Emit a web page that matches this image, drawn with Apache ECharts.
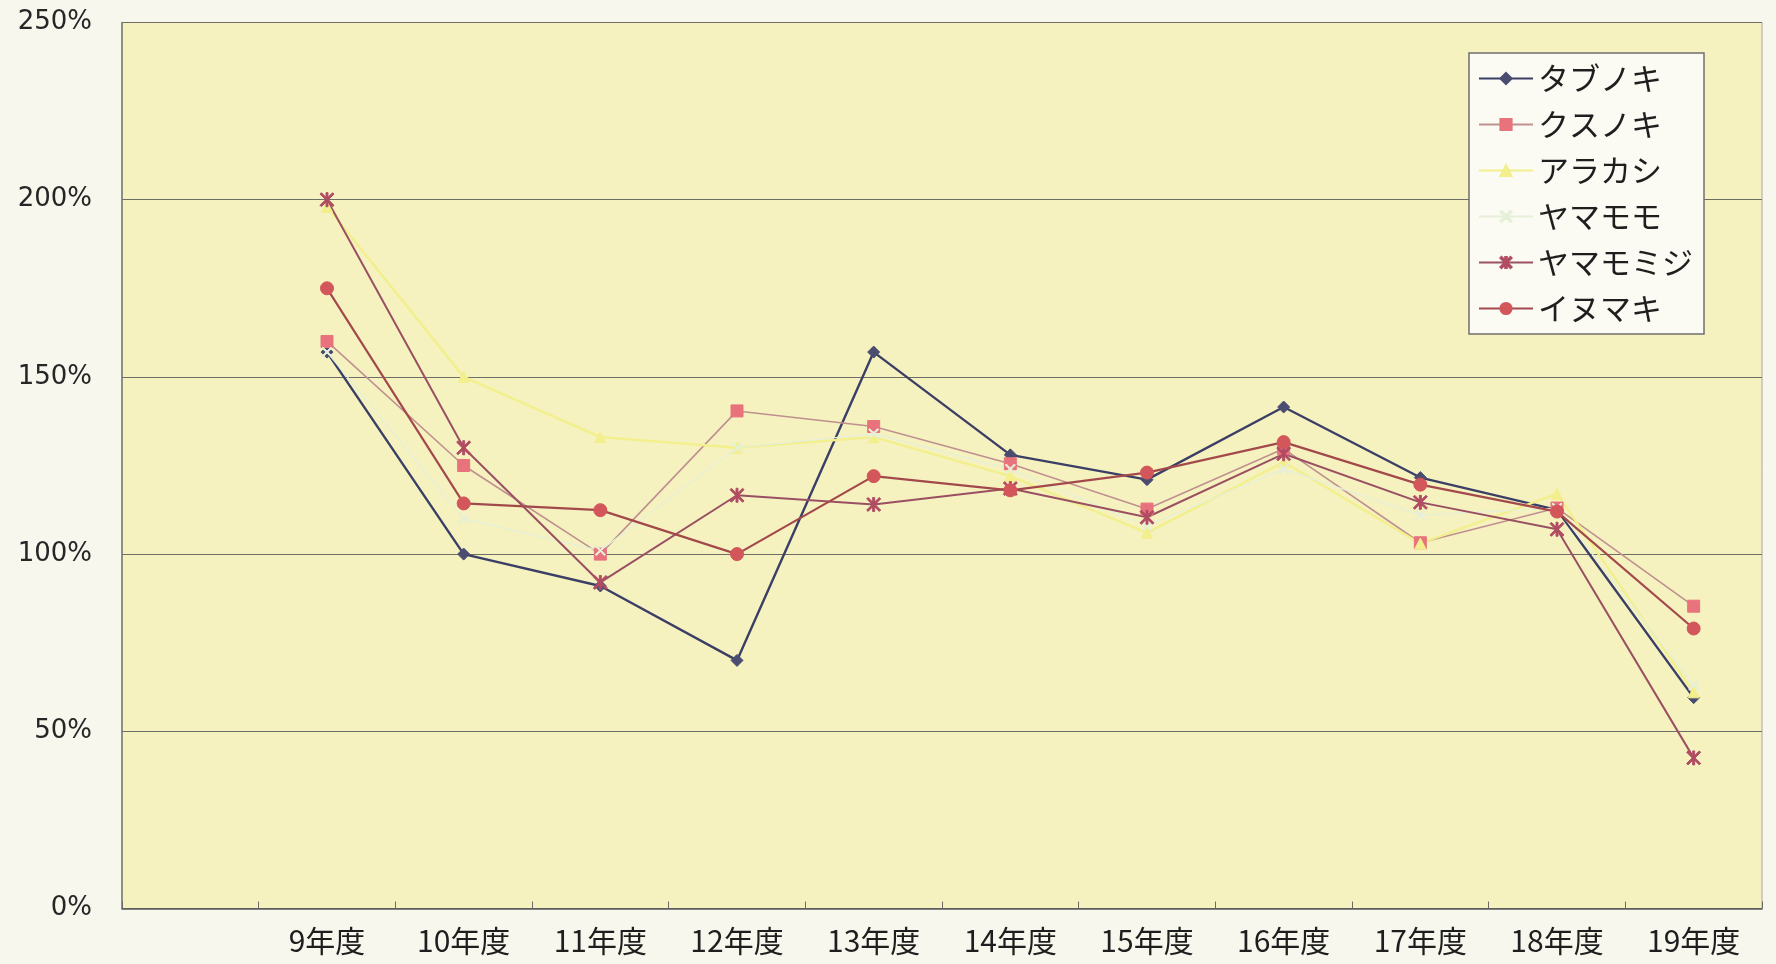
<!DOCTYPE html>
<html>
<head>
<meta charset="utf-8">
<title>樹種別 成長率</title>
<script src="https://cdn.jsdelivr.net/npm/echarts@6/dist/echarts.min.js"></script>
<style>
  html, body { margin: 0; padding: 0; background: #f7f7ee; }
  #chart { width: 1776px; height: 964px; }
</style>
</head>
<body>
<div id="chart"></div>
<script>
// 年度 (先頭は空欄の区間)
const categories = ['', '9年度', '10年度', '11年度', '12年度', '13年度', '14年度', '15年度', '16年度', '17年度', '18年度', '19年度'];

// 樹種ごとの値 (%)
const tabunoki   = [null, 157, 100, 91, 70, 157, 128, 121, 141.5, 121.6, 112.5, 59.5];
const kusunoki   = [null, 160, 125, 100, 140.4, 136, 125.5, 112.7, 129.7, 103.2, 113, 85.3];
const arakashi   = [null, 198, 150, 133, 130, 133, 122, 106, 126, 103, 117, 61];
const yamamomo   = [null, 157, 110, 101, 130, 134, 124, 108, 124, 111, 113, 63];
const yamamomiji = [null, 200, 130, 92, 116.6, 114, 118.5, 110.4, 128.3, 114.6, 107, 42.5];
const inumaki    = [null, 175, 114.3, 112.4, 100, 122, 118, 123, 131.6, 119.6, 112, 79];

// 縦軸目盛
const yTicks = [0, 50, 100, 150, 200, 250];

// アスタリスク形・×形のマーカー
const asterisk = 'path://M4.3,0 L5.7,0 L5.7,10 L4.3,10 Z M0,1 L1,0 L10,9 L9,10 Z M9,0 L10,1 L1,10 L0,9 Z';
const crossMark = 'path://M0,1 L1,0 L10,9 L9,10 Z M9,0 L10,1 L1,10 L0,9 Z';

function lineSeries(name, data, color, markerColor, symbol, symbolSize, width) {
  return {
    name: name,
    type: 'line',
    data: data,
    symbol: symbol,
    symbolSize: symbolSize,
    showAllSymbol: true,
    connectNulls: false,
    lineStyle: { color: color, width: width },
    itemStyle: { color: markerColor, borderColor: markerColor, borderWidth: 1 },
    emphasis: { disabled: true },
    z: 2
  };
}

const chart = echarts.init(document.getElementById('chart'), null, { renderer: 'canvas' });

chart.setOption({
  backgroundColor: '#f7f7ee',
  animation: false,
  grid: {
    left: 122, right: 14, top: 22.5, bottom: 55.5,
    show: true,
    backgroundColor: '#f5f2bf',
    borderColor: '#a8a89a',
    borderWidth: 1
  },
  legend: {
    orient: 'vertical',
    left: 1469,
    top: 53,
    padding: [10, 11, 10, 9],
    itemWidth: 54,
    itemHeight: 14,
    itemGap: 15,
    backgroundColor: '#fbfbf4',
    borderColor: '#6f6f6f',
    borderWidth: 1.5,
    textStyle: {
      fontFamily: '"Noto Sans CJK JP", sans-serif',
      fontSize: 31,
      lineHeight: 30,
      color: '#1e1e1e'
    },
    data: ['タブノキ', 'クスノキ', 'アラカシ', 'ヤマモモ', 'ヤマモミジ', 'イヌマキ']
  },
  xAxis: {
    type: 'category',
    data: categories,
    boundaryGap: true,
    axisLine: { show: true, lineStyle: { color: '#5a5a5a', width: 1.5 } },
    axisTick: { show: true, inside: true, length: 7, lineStyle: { color: '#6a6a6a' } },
    axisLabel: {
      interval: 0,
      margin: 17,
      fontFamily: '"Noto Sans CJK JP", sans-serif',
      fontSize: 30,
      color: '#1e1e1e'
    },
    splitLine: { show: false }
  },
  yAxis: {
    type: 'value',
    min: yTicks[0],
    max: yTicks[yTicks.length - 1],
    interval: yTicks[1] - yTicks[0],
    axisLine: { show: true, lineStyle: { color: '#7a7a70', width: 1.5 } },
    axisTick: { show: false },
    axisLabel: {
      margin: 30,
      formatter: '{value}%',
      fontFamily: '"DejaVu Sans", sans-serif',
      fontSize: 26,
      color: '#262626'
    },
    splitLine: { show: true, lineStyle: { color: '#6e6e66', width: 1.2 } }
  },
  series: [
    lineSeries('タブノキ', tabunoki, '#3b3f66', '#4a4d70', 'diamond', 12, 2.4),
    lineSeries('クスノキ', kusunoki, '#c09090', '#e8737c', 'rect', 12, 1.6),
    lineSeries('アラカシ', arakashi, '#f2ef8c', '#f2ef8c', 'triangle', 11, 2.4),
    lineSeries('ヤマモモ', yamamomo, '#e6efd8', '#e6efd8', crossMark, 10, 1.3),
    lineSeries('ヤマモミジ', yamamomiji, '#9a5062', '#b14c63', asterisk, 14, 2),
    lineSeries('イヌマキ', inumaki, '#a3494c', '#d2565a', 'circle', 13, 2.2)
  ]
});
</script>
</body>
</html>
